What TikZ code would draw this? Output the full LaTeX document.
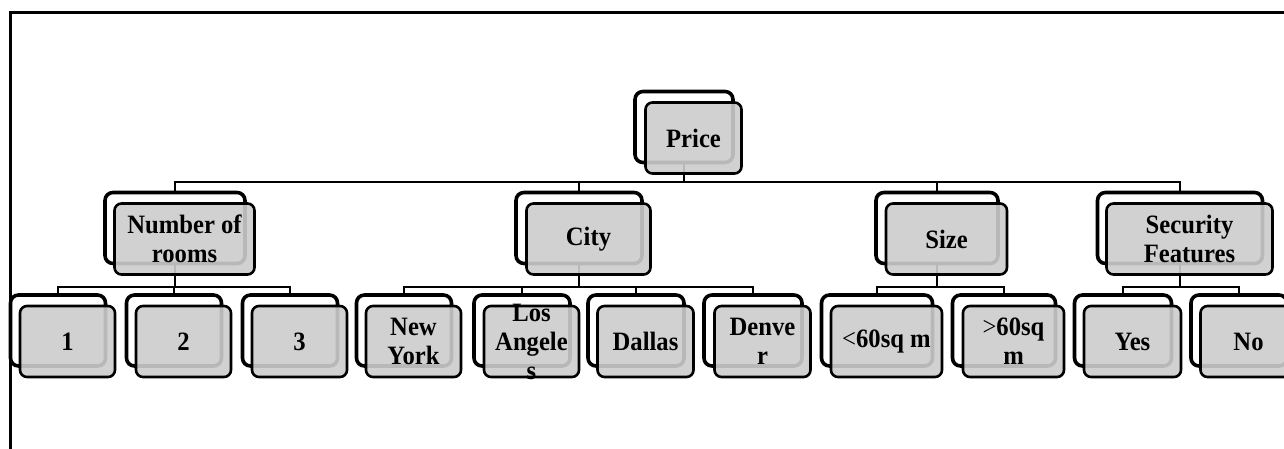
\documentclass[tikz,border=0pt]{standalone}
\usepackage{fontspec}
\setmainfont{Liberation Serif}[FakeStretch=0.93]
\begin{document}
\begin{tikzpicture}[x=1pt,y=-1pt,
  back/.style={draw=black, line width=3.6pt, rounded corners=8pt, fill=white,
    minimum height=71pt, inner sep=0pt},
  front/.style={draw=black, line width=2.6pt, rounded corners=7pt,
    fill=black!20, fill opacity=0.9, minimum height=71pt, inner sep=0pt},
  lbl/.style={inner sep=0pt, align=center,
    font=\bfseries\fontsize{26.5}{29}\selectfont},
  link/.style={line width=2pt},
  frameline/.style={line width=3pt}]
\useasboundingbox (0,0) rectangle (1284,449);
\clip (0,0) rectangle (1284,449);

% outer frame (top and left edges)
\draw[frameline] (10,452) -- (10,13) -- (1290,13);

% back cards: name, x, y, width
\newcommand\backcard[4]{\node[back, minimum width=#4pt] (#1) at (#2,#3) {};}
% front cards: name of back card, width, label
\newcommand\frontcard[3]{%
  \node[front, minimum width=#2pt] (#1f) at ([shift={(9.5,11)}]#1.center) {};
  \node[lbl] (#1t) at (#1f.center) {#3};}

% level 0
\backcard{price}{684}{127}{98}
% level 1
\backcard{rooms}{175}{228}{140}
\backcard{city}{579}{228}{126}
\backcard{size}{937}{228}{122}
\backcard{secur}{1180}{228}{165}
% level 2
\backcard{one}{58}{330.5}{95}
\backcard{two}{174}{330.5}{95}
\backcard{three}{290}{330.5}{95}
\backcard{ny}{404}{330.5}{95}
\backcard{la}{522}{330.5}{96}
\backcard{dal}{636}{330.5}{96}
\backcard{den}{753}{330.5}{98}
\backcard{lt}{877}{330.5}{111}
\backcard{gt}{1004}{330.5}{103}
\backcard{yes}{1123}{330.5}{97}
\backcard{no}{1239}{330.5}{96}

% connectors
\foreach \c in {rooms,city,size,secur}
  \draw[link] (price.south) -- ++(0,17.5) -| (\c.north);
\foreach \c in {one,two,three}
  \draw[link] (rooms.south) -- ++(0,21.5) -| (\c.north);
\foreach \c in {ny,la,dal,den}
  \draw[link] (city.south) -- ++(0,21.5) -| (\c.north);
\foreach \c in {lt,gt}
  \draw[link] (size.south) -- ++(0,21.5) -| (\c.north);
\foreach \c in {yes,no}
  \draw[link] (secur.south) -- ++(0,21.5) -| (\c.north);

% front cards with labels
\frontcard{price}{96}{Price}
\frontcard{rooms}{140}{Number of\\rooms}
\frontcard{city}{124}{City}
\frontcard{size}{121}{Size}
\frontcard{secur}{166}{Security\\Features}
\frontcard{one}{95}{1}
\frontcard{two}{95}{2}
\frontcard{three}{95}{3}
\frontcard{ny}{95}{New\\York}
\frontcard{la}{95}{Los\\Angele\\s}
\frontcard{dal}{96}{Dallas}
\frontcard{den}{96}{Denve\\r}
\frontcard{lt}{111}{{\mdseries<}60sq m}
\frontcard{gt}{101}{{\mdseries>}60sq\\m}
\frontcard{yes}{97}{Yes}
\frontcard{no}{96}{No}
\end{tikzpicture}
\end{document}
